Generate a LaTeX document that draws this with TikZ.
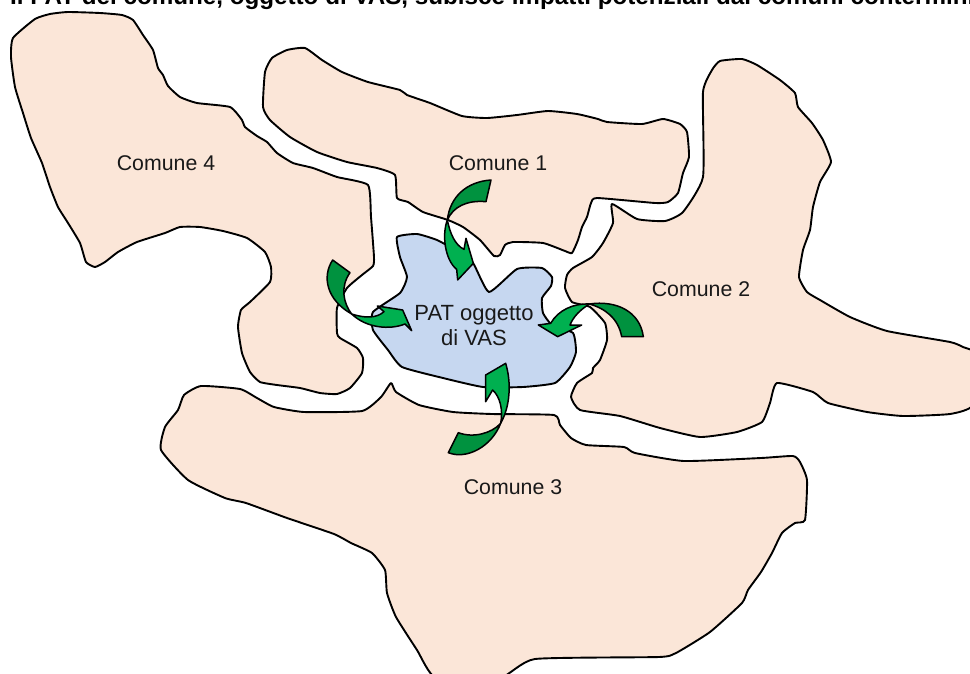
\documentclass[tikz,border=0pt]{standalone}
\usepackage{fontspec}
\setmainfont{Liberation Sans}
\definecolor{peach}{HTML}{FBE6D8}
\definecolor{patblue}{HTML}{C6D7F0}
\definecolor{arrowdark}{HTML}{00923F}
\definecolor{arrowlight}{HTML}{00B050}
\tikzset{
  comune/.style={draw=black,fill=peach,line width=1.9pt,line join=round},
  patarea/.style={draw=black,fill=patblue,line width=1.9pt,line join=round},
  arrowtail/.style={draw=black,fill=arrowdark,line width=1.5pt,line join=round},
  arrowhead/.style={draw=black,fill=arrowlight,line width=1.5pt,line join=round},
  lab/.style={font=\fontsize{21.3}{25}\selectfont,text=black!90,align=center,inner sep=0pt},
  patlab/.style={font=\fontsize{22}{25}\selectfont,text=black!90,align=center,inner sep=0pt},
  smoothshape/.style={smooth cycle,tension=0.3}
}
\begin{document}
\begin{tikzpicture}[x=1pt,y=-1pt]
\useasboundingbox (0,0) rectangle (970,673);
\clip (0,0) rectangle (970,673);
\fill[white] (0,0) rectangle (970,673);
\node[anchor=base west,inner sep=0pt,font=\fontsize{24.2}{28}\selectfont\bfseries] (title) at (10,4) {Il PAT del comune, oggetto di VAS, subisce impatti potenziali dai comuni contermini};
% Comune 4
\draw[comune] plot[smoothshape] coordinates {(35,19)(50,14)(68,12)(100,13)(122,15)(133,20)(143,35)(153,50)(158,68)(163,75)(168,86)(180,97)(197,103)(230,107)(242,120)(245,127)(257,136)(267,142)(277,153)(293,163)(313,168)(337,177)(368,185)(371,217)(374,257)(373,266)(362,275)(347,288)(337,308)(337,333)(340,338)(357,348)(363,358)(362,373)(350,388)(337,394)(320,393)(300,388)(277,385)(260,382)(250,372)(242,353)(238,327)(241,310)(250,302)(270,282)(271,267)(265,252)(247,238)(223,231)(200,227)(180,227)(165,233)(137,242)(118,252)(105,262)(95,267)(86,262)(80,243)(68,223)(58,207)(50,187)(42,163)(31,138)(23,113)(15,87)(11,57)(13,38)};
% Comune 1
\draw[comune] plot[smoothshape] coordinates {(272,58)(287,50)(305,48)(322,60)(342,72)(368,82)(400,90)(407,95)(430,103)(462,116)(487,118)(517,115)(548,111)(577,114)(598,119)(607,122)(642,124)(663,119)(680,124)(687,132)(689,157)(683,173)(678,193)(668,202)(655,203)(597,198)(591,203)(587,217)(582,227)(578,240)(572,253)(565,251)(543,243)(513,242)(505,245)(500,255)(494,256)(480,240)(463,227)(448,220)(423,212)(408,202)(397,198)(395,175)(377,168)(347,162)(317,152)(290,137)(270,120)(263,107)(265,72)};
% Comune 2
\draw[comune] plot[smoothshape] coordinates {(712,70)(720,61)(742,59)(757,65)(780,80)(795,93)(798,107)(812,123)(823,140)(831,162)(820,182)(813,207)(810,230)(803,250)(799,277)(807,292)(820,300)(850,317)(887,331)(950,342)(963,347)(977,355)(973,405)(950,414)(903,416)(867,412)(828,403)(813,392)(777,383)(770,403)(762,422)(737,432)(700,437)(660,428)(620,416)(580,410)(571,397)(577,383)(592,373)(593,368)(600,360)(607,340)(605,323)(590,307)(572,302)(565,288)(567,275)(573,268)(592,257)(603,243)(613,223)(612,204)(637,219)(665,221)(683,212)(703,177)(703,92)};
% Comune 3
\draw[comune] plot[smoothshape] coordinates {(201,386)(240,389)(257,398)(274,407)(304,412)(362,411)(381,397)(391,383)(396,392)(419,405)(453,412)(492,414)(554,415)(560,425)(571,438)(586,445)(624,447)(635,453)(684,461)(761,458)(793,456)(800,462)(807,480)(805,520)(795,523)(782,533)(772,553)(761,572)(748,590)(742,603)(710,632)(676,653)(659,657)(535,659)(500,678)(436,678)(417,650)(396,617)(387,593)(385,570)(372,553)(351,543)(334,534)(287,518)(246,503)(225,498)(188,480)(161,450)(165,427)(178,410)(184,395)};
% PAT
\draw[patarea] plot[smoothshape] coordinates {(397,237)(417,234)(437,240)(455,250)(473,263)(489,292)(517,269)(542,268)(552,277)(551,286)(542,298)(543,313)(552,325)(573,333)(576,352)(570,367)(555,383)(523,387)(483,387)(443,378)(402,367)(388,350)(373,330)(373,312)(400,293)(407,277)(400,257)};
\node[lab] (c1) at (498,163) {Comune 1};
\node[lab] (c2) at (701,289) {Comune 2};
\node[lab] (c3) at (513,487) {Comune 3};
\node[lab] (c4) at (166,163) {Comune 4};
\node[patlab] (pat) at (474,326) {PAT oggetto\\di VAS};
% arrows, in the coordinates of a 3x crop
\begin{scope}[shift={(310,170)},x=1/3*1pt,y=-1/3*1pt]
\draw[arrowtail] (543,30) .. controls (470,35) and (420,80) .. (412,150) .. controls (430,110) and (470,90) .. (528,95) -- cycle;
\draw[arrowhead] (412,150) .. controls (395,195) and (405,270) .. (440,298) -- (443,330) -- (490,280) -- (468,205) -- (462,238) .. controls (435,225) and (420,190) .. (412,150) -- cycle;
\draw[arrowtail] (1000,500) -- (935,500) .. controls (925,445) and (885,415) .. (838,402) .. controls (920,390) and (990,425) .. (1000,500) -- cycle;
\draw[arrowhead] (838,402) .. controls (790,400) and (745,420) .. (722,460) -- (685,465) -- (743,500) -- (815,465) -- (780,465) .. controls (790,440) and (810,420) .. (838,402) -- cycle;
\draw[arrowtail] (445,788) -- (415,848) .. controls (470,870) and (545,830) .. (572,760) .. controls (545,790) and (490,805) .. (445,788) -- cycle;
\draw[arrowhead] (572,760) .. controls (600,710) and (605,640) .. (587,580) -- (527,615) -- (527,695) -- (548,660) .. controls (570,680) and (580,720) .. (572,760) -- cycle;
\draw[arrowtail] (68,270) -- (120,308) .. controls (90,350) and (100,400) .. (125,432) .. controls (50,390) and (35,320) .. (68,270) -- cycle;
\draw[arrowhead] (125,432) .. controls (170,475) and (240,480) .. (285,462) -- (305,482) -- (278,420) -- (202,408) -- (222,425) .. controls (200,445) and (165,445) .. (125,432) -- cycle;
\end{scope}
\end{tikzpicture}
\end{document}
